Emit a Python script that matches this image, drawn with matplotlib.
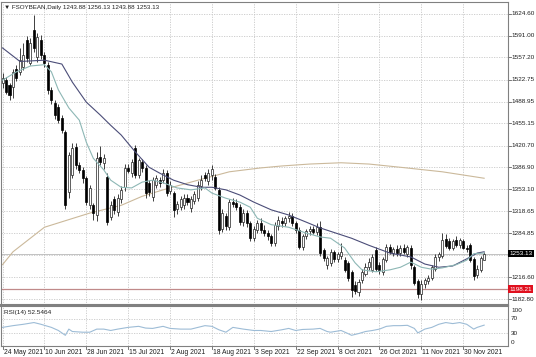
import matplotlib.pyplot as plt
import matplotlib.transforms as mtransforms
import numpy as np

plt.rcParams['font.family'] = ['Liberation Sans', 'DejaVu Sans']

# daily bars, 24 May 2021 .. 8 Dec 2021
opens = [1518, 1522, 1514, 1511, 1540, 1535, 1542, 1584, 1549, 1600,
         1558, 1584, 1561, 1545, 1507, 1487, 1480, 1463, 1441, 1349,
         1375, 1418, 1390, 1383, 1370, 1328, 1328, 1313, 1403, 1393,
         1372, 1310, 1338, 1318, 1338, 1356, 1386, 1378, 1417, 1375,
         1395, 1386, 1362, 1341, 1360, 1367, 1367, 1378, 1350, 1347,
         1322, 1325, 1328, 1340, 1324, 1335, 1340, 1358, 1375, 1365,
         1375, 1372, 1352, 1292, 1312, 1294, 1333, 1332, 1326, 1302,
         1316, 1300, 1277, 1290, 1300, 1290, 1285, 1280, 1270, 1296,
         1304, 1300, 1308, 1312, 1300, 1290, 1264, 1280, 1288, 1292,
         1287, 1295, 1259, 1236, 1238, 1255, 1245, 1250, 1243, 1238,
         1225, 1205, 1193, 1212, 1222, 1232, 1228, 1258, 1236, 1225,
         1243, 1263, 1254, 1260, 1254, 1262, 1252, 1262, 1232, 1210,
         1190, 1206, 1210, 1216, 1230, 1248, 1250, 1276, 1272, 1262,
         1274, 1266, 1272, 1262, 1266, 1245, 1220, 1228, 1243.88]
highs = [1533, 1527, 1518, 1540, 1545, 1572, 1580, 1590, 1588, 1623,
         1595, 1592, 1565, 1550, 1512, 1492, 1485, 1468, 1445, 1410,
         1425, 1425, 1395, 1388, 1374, 1360, 1332, 1410, 1420, 1408,
         1378, 1335, 1342, 1345, 1358, 1392, 1392, 1400, 1422, 1402,
         1400, 1390, 1368, 1372, 1375, 1372, 1385, 1382, 1365, 1350,
         1335, 1342, 1345, 1346, 1342, 1350, 1365, 1375, 1380, 1385,
         1390, 1376, 1356, 1322, 1316, 1338, 1340, 1338, 1330, 1322,
         1320, 1304, 1296, 1305, 1308, 1298, 1290, 1284, 1302, 1312,
         1310, 1312, 1318, 1316, 1304, 1294, 1284, 1292, 1296, 1296,
         1300, 1304, 1262, 1250, 1260, 1258, 1256, 1270, 1248, 1242,
         1228, 1210, 1214, 1230, 1238, 1246, 1252, 1264, 1240, 1248,
         1268, 1268, 1264, 1266, 1266, 1268, 1266, 1266, 1236, 1214,
         1212, 1216, 1220, 1236, 1252, 1256, 1285, 1283, 1278, 1276,
         1280, 1278, 1276, 1266, 1270, 1248, 1235, 1250, 1256.13]
lows = [1510, 1500, 1491, 1495, 1520, 1530, 1538, 1550, 1545, 1565,
        1550, 1555, 1542, 1500, 1485, 1462, 1455, 1440, 1322, 1340,
        1370, 1385, 1378, 1362, 1328, 1322, 1305, 1303, 1390, 1385,
        1298, 1305, 1315, 1312, 1332, 1350, 1378, 1372, 1370, 1370,
        1380, 1340, 1342, 1335, 1355, 1356, 1362, 1342, 1345, 1310,
        1315, 1320, 1322, 1328, 1318, 1330, 1335, 1352, 1365, 1360,
        1368, 1352, 1283, 1286, 1290, 1290, 1325, 1320, 1298, 1296,
        1295, 1272, 1272, 1285, 1285, 1280, 1275, 1265, 1265, 1290,
        1295, 1296, 1302, 1296, 1285, 1260, 1258, 1276, 1282, 1284,
        1282, 1250, 1242, 1230, 1234, 1240, 1240, 1245, 1224, 1210,
        1186, 1190, 1188, 1208, 1218, 1228, 1224, 1226, 1222, 1220,
        1240, 1252, 1250, 1250, 1250, 1252, 1248, 1230, 1205, 1185,
        1181, 1200, 1206, 1212, 1226, 1242, 1246, 1262, 1258, 1258,
        1264, 1262, 1260, 1255, 1240, 1213, 1216, 1224, 1243.88]
closes = [1525, 1504, 1499, 1535, 1526, 1553, 1561, 1556, 1580, 1572,
          1589, 1561, 1548, 1507, 1491, 1468, 1460, 1445, 1328, 1406,
          1417, 1390, 1383, 1370, 1333, 1355, 1316, 1401, 1395, 1402,
          1302, 1328, 1320, 1340, 1352, 1386, 1381, 1395, 1375, 1398,
          1386, 1347, 1348, 1367, 1370, 1362, 1378, 1347, 1360, 1320,
          1330, 1338, 1340, 1333, 1338, 1345, 1360, 1368, 1370, 1378,
          1384, 1355, 1290, 1316, 1296, 1333, 1330, 1326, 1302, 1316,
          1300, 1277, 1292, 1300, 1290, 1285, 1280, 1270, 1298, 1306,
          1300, 1308, 1312, 1300, 1290, 1264, 1280, 1288, 1292, 1287,
          1295, 1254, 1246, 1246, 1255, 1245, 1252, 1255, 1228, 1215,
          1197, 1195, 1209, 1225, 1232, 1240, 1248, 1230, 1228, 1245,
          1263, 1256, 1260, 1254, 1262, 1255, 1263, 1235, 1208, 1190,
          1206, 1212, 1216, 1232, 1248, 1252, 1274, 1265, 1262, 1272,
          1266, 1274, 1262, 1260, 1243, 1218, 1230, 1246, 1253.13]

# moving averages (bar index, price)
fast_ma_bars = [0, 4, 8, 12, 14, 16, 19, 22, 24, 26, 29, 31, 34, 37, 40, 43, 46, 50, 54, 58,
                60, 64, 68, 71, 73, 77, 82, 87, 91, 94, 98, 101, 103, 107, 111, 114, 117,
                120, 123, 126, 130, 133, 135, 138]
fast_ma_vals = [1522, 1535, 1544, 1546, 1535, 1507, 1479, 1460, 1426, 1401, 1383, 1367, 1356,
                1355, 1364, 1367, 1363, 1355, 1352, 1355, 1347, 1339, 1333, 1325, 1308, 1298,
                1294, 1285, 1279, 1277, 1262, 1239, 1228, 1225, 1228, 1232, 1240, 1232, 1229,
                1231, 1236, 1243, 1253, 1254]
slow_ma_bars = [0, 5, 12, 17, 20, 24, 28, 31, 34, 38, 42, 45, 49, 53, 57, 60, 64, 68, 72, 77,
                82, 87, 91, 100, 105, 111, 117, 121, 125, 129, 133, 136, 138]
slow_ma_vals = [1572, 1551, 1553, 1547, 1519, 1488, 1468, 1452, 1437, 1411, 1387, 1378, 1367,
                1360, 1356, 1356, 1352, 1344, 1333, 1321, 1313, 1302, 1293, 1277, 1266, 1254,
                1248, 1237, 1232, 1234, 1245, 1254, 1256]
long_ma_bars = [0, 3, 12, 25, 34, 40, 46, 56, 65, 74, 80, 88, 97, 105, 114, 126, 138]
long_ma_vals = [1236, 1256, 1294, 1316, 1328, 1342, 1352, 1367, 1380, 1386, 1389, 1392, 1394,
                1392, 1387, 1380, 1370]

rsi_bars = [0, 3, 6, 9, 11, 14, 16, 18, 19, 20, 23, 25, 27, 29, 31, 33, 36, 39, 41, 43, 46, 48,
            51, 54, 56, 58, 60, 62, 64, 66, 69, 72, 74, 77, 80, 82, 84, 86, 89, 91, 93, 94,
            97, 99, 100, 102, 104, 106, 108, 110, 112, 114, 116, 118, 119, 121, 123, 125,
            127, 129, 131, 133, 135, 136, 138]
rsi_vals = [46, 51, 55, 60, 55, 46, 37, 23, 41, 34, 32, 32, 41, 41, 37, 41, 46, 49, 44, 43, 49,
            43, 41, 41, 46, 51, 49, 39, 32, 46, 41, 37, 37, 34, 39, 43, 37, 40, 41, 43, 34, 32,
            37, 28, 23, 28, 34, 37, 41, 49, 51, 51, 52, 43, 30, 41, 46, 55, 60, 57, 60, 55,
            41, 46, 52.5]

price_ticks = [1624.60, 1591.00, 1557.20, 1522.75, 1488.95, 1455.15, 1420.70, 1386.90,
               1353.10, 1318.65, 1284.85, 1250.75, 1216.60, 1182.80]
date_labels = ['24 May 2021', '10 Jun 2021', '28 Jun 2021', '15 Jul 2021', '2 Aug 2021',
               '18 Aug 2021', '3 Sep 2021', '22 Sep 2021', '8 Oct 2021', '26 Oct 2021',
               '11 Nov 2021', '30 Nov 2021']
last_price = 1253.13
level_price = 1198.21
rsi_text = 'RSI(14) 52.5464'
title_text = '\u25bc FSOYBEAN,Daily 1243.88 1256.13 1243.88 1253.13'

grid_c = '#c8c8c8'
frame_c = '#808080'
fs = 4.6
fs_date = 4.9

fig = plt.figure(figsize=(5.36, 3.57), dpi=100)
ax = fig.add_axes([0.001, 52 / 357, 507 / 536, 303 / 357])
ax2 = fig.add_axes([0.001, 11 / 357, 507 / 536, 40 / 357], sharex=ax)

n = len(closes)
x = np.arange(n)
o = np.array(opens)
c = np.array(closes)
up = c >= o

# grid
dots = (0, (1.5, 1.5))
label_pos = np.arange(len(date_labels)) * 12
for p in price_ticks:
    ax.axhline(p, color=grid_c, lw=0.6, ls=dots, zorder=0)
for xp in label_pos:
    ax.axvline(xp, color=grid_c, lw=0.6, ls=dots, zorder=0)
    ax2.axvline(xp, color=grid_c, lw=0.6, ls=dots, zorder=0)

# candles
ax.vlines(x, lows, highs, color='#202020', lw=0.6, zorder=3)
ax.bar(x[up], (c - o)[up], bottom=o[up], width=0.58, color='white',
       edgecolor='#202020', lw=0.5, zorder=4)
ax.bar(x[~up], (c - o)[~up], bottom=o[~up], width=0.58, color='black',
       edgecolor='black', lw=0.5, zorder=4)

# moving averages
ax.plot(long_ma_bars, long_ma_vals, color='#cbb99b', lw=0.8, zorder=2)
ax.plot(slow_ma_bars, slow_ma_vals, color='#4b4d78', lw=0.8, zorder=5)
ax.plot(fast_ma_bars, fast_ma_vals, color='#8db7b5', lw=0.8, zorder=5)

# price lines
ax.axhline(last_price, color='#b8b8b8', lw=0.6, zorder=1)
ax.axhline(level_price, color='#c08a8a', lw=0.9, zorder=1)

ax.set_xlim(-0.57, 144.7)
ax.set_ylim(1173.5, 1643.2)
ax.set_xticks([])
ax.set_yticks([])
for s in ax.spines.values():
    s.set_color(frame_c)
    s.set_linewidth(0.8)
ax.spines['bottom'].set_linewidth(1.5)

ytr = ax.get_yaxis_transform()
for p in price_ticks:
    if p == 1250.75:
        continue
    ax.plot([1.0, 1.006], [p, p], color='#606060', lw=0.6, transform=ytr, clip_on=False)
    ax.text(1.007, p, '%.2f' % p, transform=ytr, fontsize=fs, va='center', ha='left',
            color='#202020')
ax.text(1.004, last_price, '%.2f' % last_price, transform=ytr, fontsize=fs, va='center',
        ha='left', color='white', bbox=dict(boxstyle='square,pad=0.2', fc='black', ec='none'))
ax.text(1.004, level_price, '%.2f' % level_price, transform=ytr, fontsize=fs, va='center',
        ha='left', color='white', bbox=dict(boxstyle='square,pad=0.2', fc='#e0101e', ec='none'))

ax.text(0.006, 0.982, title_text, transform=ax.transAxes, fontsize=4.5, va='center',
        ha='left', color='#202020')

# RSI panel
ax2.plot(rsi_bars, rsi_vals, color='#9dbcd6', lw=0.8, zorder=3)
for lv in (70, 30):
    ax2.axhline(lv, color=grid_c, lw=0.6, ls=dots, zorder=0)
ax2.set_ylim(-8, 108)
ax2.set_xticks([])
ax2.set_yticks([])
for s in ax2.spines.values():
    s.set_color(frame_c)
    s.set_linewidth(0.8)
ax2.spines['top'].set_linewidth(1.5)
ax2.text(0.006, 0.84, rsi_text, transform=ax2.transAxes, fontsize=fs, va='center',
         ha='left', color='#202020')

ytr2 = ax2.get_yaxis_transform()
for lv, pos in ((100, 94), (70, 72), (30, 28), (0, 2)):
    ax2.text(1.007, pos, str(lv), transform=ytr2, fontsize=fs, va='center', ha='left',
             color='#202020')

xtr = mtransforms.blended_transform_factory(ax2.transData, ax2.transAxes)
for xp, lab in zip(label_pos, date_labels):
    ax2.plot([xp, xp], [0, -0.08], color='#606060', lw=0.6, transform=xtr, clip_on=False)
    ax2.text(xp + 0.3, -0.16, lab, transform=xtr, fontsize=fs_date, va='center', ha='left',
             color='#202020')

fig.savefig('out.png', dpi=100, facecolor='white')
